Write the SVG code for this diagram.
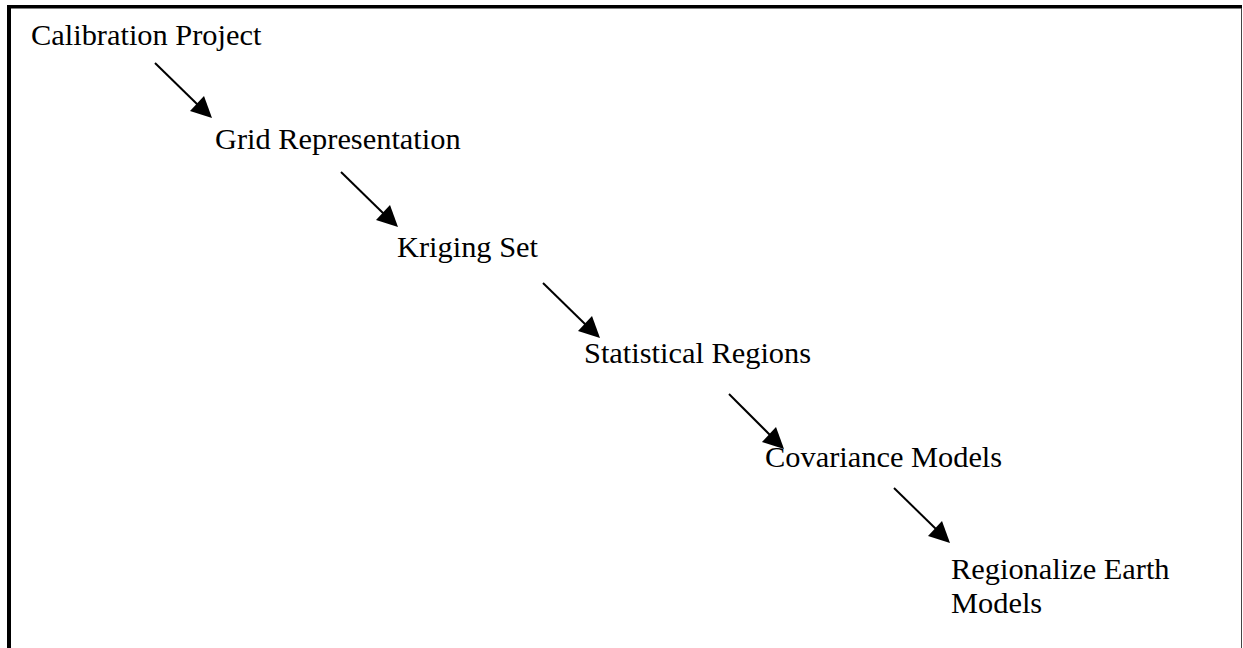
<svg xmlns="http://www.w3.org/2000/svg" width="1243" height="648" viewBox="0 0 1243 648">
<defs>
<style>
.t{font-family:"Liberation Serif","Times New Roman",serif;font-size:30.4px;fill:#000}
.c{stroke:#000;stroke-width:2;fill:none}
</style>
</defs>
<rect width="1243" height="648" fill="#fff"/>
<g id="frame">
<line x1="7" y1="6.75" x2="1242" y2="6.75" stroke="#000" stroke-width="3.5"/>
<line x1="9" y1="5" x2="9" y2="648" stroke="#000" stroke-width="4"/>
<line x1="1241.5" y1="8" x2="1241.5" y2="648" stroke="#444" stroke-width="1"/>
</g>
<g id="connectors">
<line class="c" x1="155" y1="63" x2="198" y2="105"/>
<polygon points="212,118 190,111 204,96"/>
<line class="c" x1="341" y1="172" x2="384" y2="214"/>
<polygon points="398,227 376,220 390,205"/>
<line class="c" x1="543" y1="283" x2="586" y2="325"/>
<polygon points="600,338 578,331 592,316"/>
<line class="c" x1="729" y1="394" x2="771" y2="436"/>
<polygon points="784,449 762,442 776,427"/>
<line class="c" x1="894" y1="488" x2="937" y2="530"/>
<polygon points="950,543 928,536 942,521"/>
</g>
<g id="n1"><text class="t" x="31" y="45">Calibration Project</text></g>
<g id="n2"><text class="t" x="215" y="149">Grid Representation</text></g>
<g id="n3"><text class="t" x="397" y="257">Kriging Set</text></g>
<g id="n4"><text class="t" x="584" y="363">Statistical Regions</text></g>
<g id="n5"><text class="t" x="765" y="467">Covariance Models</text></g>
<g id="n6"><text class="t" x="951" y="579">Regionalize Earth<tspan x="951" y="613">Models</tspan></text></g>
</svg>
